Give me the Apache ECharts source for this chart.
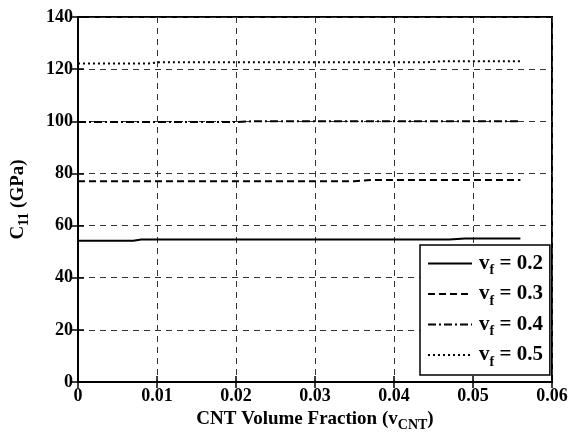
<!DOCTYPE html>
<html>
<head>
<meta charset="utf-8">
<script src="https://cdn.jsdelivr.net/npm/echarts@6/dist/echarts.min.js"></script>
<style>
  html, body { margin: 0; padding: 0; background: #fff; }
  #chart { width: 570px; height: 436px; }
</style>
</head>
<body>
<div id="chart"></div>
<script>
// x positions (CNT volume fraction) and C11 values (GPa)
const vf02X = [0, 0.007, 0.008, 0.047, 0.049, 0.056]
const vf02Y = [54.2, 54.2, 54.7, 54.7, 55.0, 55.0]
const vf03X = [0, 0.035, 0.037, 0.056]
const vf03Y = [77.0, 77.0, 77.5, 77.5]
const vf04X = [0, 0.02, 0.022, 0.056]
const vf04Y = [99.7, 99.7, 100.0, 100.0]
const vf05X = [0, 0.009, 0.01, 0.044, 0.046, 0.056]
const vf05Y = [122.2, 122.2, 122.6, 122.6, 123.0, 123.0]
const seriesNames = ['0.2', '0.3', '0.4', '0.5']
const xTicks = [0, 0.01, 0.02, 0.03, 0.04, 0.05, 0.06]
const yTicks = [0, 20, 40, 60, 80, 100, 120, 140]

const FONT = 'Liberation Serif'
const pairs = (xs, ys) => xs.map((x, i) => [x, ys[i]])

const chart = echarts.init(document.getElementById('chart'))

function mkSeries(name, xs, ys, type) {
  return {
    name: name,
    type: 'line',
    data: pairs(xs, ys),
    symbol: 'none',
    xAxisIndex: 0,
    yAxisIndex: 0,
    lineStyle: { color: '#000', width: 2, type: type },
    itemStyle: { color: '#000' },
    z: 5
  }
}

const titleRich = {
  b: { fontFamily: FONT, fontWeight: 'bold', fontSize: 19, color: '#000' },
  s: { fontFamily: FONT, fontWeight: 'bold', fontSize: 14, color: '#000', verticalAlign: 'bottom', padding: [12, 0, 0, 0] }
}
const legendRich = {
  b: { fontFamily: FONT, fontWeight: 'bold', fontSize: 21, color: '#000' },
  s: { fontFamily: FONT, fontWeight: 'bold', fontSize: 14, color: '#000', verticalAlign: 'bottom', padding: [14, 0, 0, 0] }
}

const option = {
  backgroundColor: '#fff',
  animation: false,
  grid: {
    left: 78, right: 18, top: 17, bottom: 54,
    outerBoundsMode: 'none', containLabel: false,
    show: true, borderColor: '#000', borderWidth: 2
  },
  xAxis: [{
    type: 'value', min: 0, max: 0.06, interval: 0.01,
    name: '{b|CNT Volume Fraction (v}{s|CNT}{b|)}',
    nameLocation: 'middle', nameGap: 24,
    nameTextStyle: { rich: titleRich },
    axisLine: { show: true, lineStyle: { color: '#000', width: 2 } },
    axisTick: { inside: true, length: 6, lineStyle: { color: '#000', width: 1.5 } },
    axisLabel: {
      fontFamily: FONT, fontWeight: 'bold', fontSize: 18, color: '#000', margin: 5,
      formatter: v => xTicks.includes(+v.toFixed(2)) ? String(+v.toFixed(2)) : ''
    },
    splitLine: { show: true, lineStyle: { color: '#333', width: 1, type: [6, 5] } }
  }, {
    type: 'value', min: 0, max: 0.06, interval: 0.01, position: 'top',
    axisLine: { show: true, lineStyle: { color: '#000', width: 2 } },
    axisTick: { inside: true, length: 6, lineStyle: { color: '#000', width: 1.5 } },
    axisLabel: { show: false }, splitLine: { show: false }
  }],
  yAxis: [{
    type: 'value', min: 0, max: 140, interval: 20,
    name: '{b|C}{s|11}{b| (GPa)}',
    nameLocation: 'middle', nameGap: 47, nameRotate: 90,
    nameTextStyle: { rich: titleRich },
    axisLine: { show: true, lineStyle: { color: '#000', width: 2 } },
    axisTick: { inside: true, length: 6, lineStyle: { color: '#000', width: 1.5 } },
    axisLabel: {
      fontFamily: FONT, fontWeight: 'bold', fontSize: 18, color: '#000', margin: 5,
      formatter: v => yTicks.includes(v) ? String(v) : ''
    },
    splitLine: { show: true, lineStyle: { color: '#333', width: 1, type: [6, 5] } }
  }, {
    type: 'value', min: 0, max: 140, interval: 20, position: 'right',
    axisLine: { show: true, lineStyle: { color: '#000', width: 2 } },
    axisTick: { inside: true, length: 6, lineStyle: { color: '#000', width: 1.5 } },
    axisLabel: { show: false }, splitLine: { show: false }
  }],
  legend: {
    orient: 'vertical',
    left: 420, top: 245,
    padding: [8, 7, 6, 7],
    itemGap: 6,
    itemWidth: 44, itemHeight: 22,
    backgroundColor: '#fff',
    borderColor: '#000', borderWidth: 1.5,
    data: seriesNames.map(n => ({ name: n })),
    formatter: n => '{b|v}{s|f}{b| = ' + n + '}',
    textStyle: { rich: legendRich, fontSize: 21, padding: [0, 0, 0, 2] },
    itemStyle: { opacity: 0 },
    lineStyle: { width: 2 }
  },
  series: [
    mkSeries(seriesNames[0], vf02X, vf02Y, 'solid'),
    mkSeries(seriesNames[1], vf03X, vf03Y, [7, 4]),
    mkSeries(seriesNames[2], vf04X, vf04Y, [8, 3, 2, 3]),
    mkSeries(seriesNames[3], vf05X, vf05Y, [2, 3])
  ]
}

chart.setOption(option)
</script>
</body>
</html>
